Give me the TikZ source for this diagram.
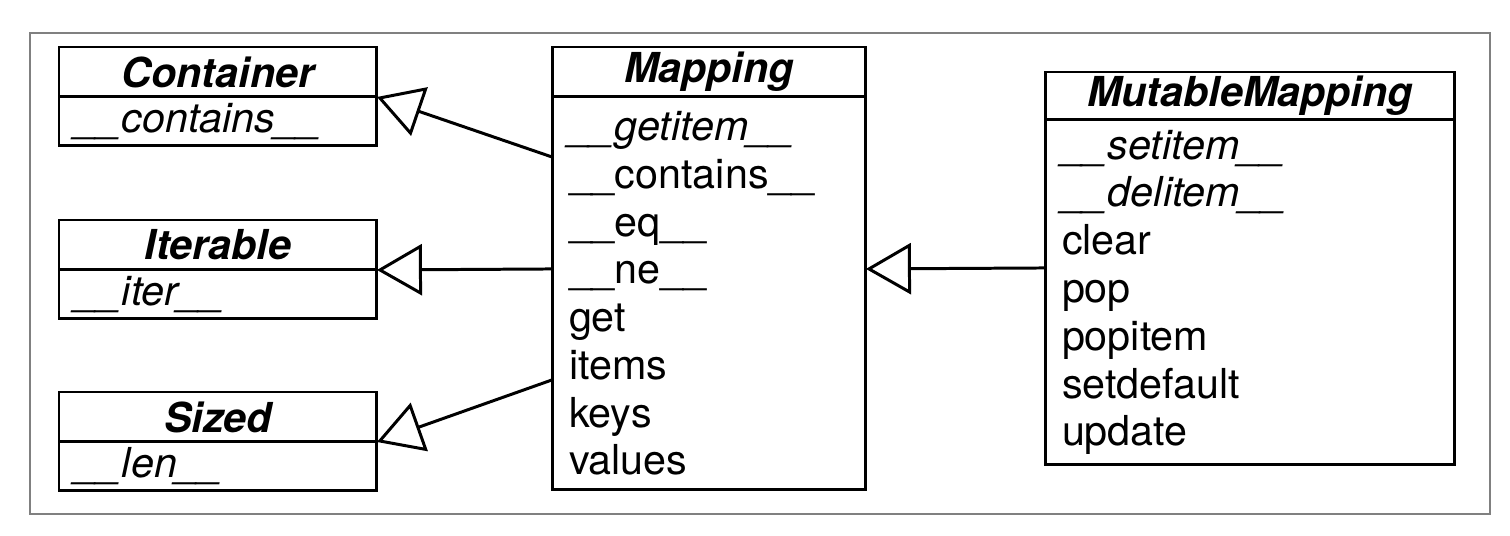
\documentclass[tikz,border=0pt]{standalone}
\usepackage{fontspec}
\setmainfont{TeX Gyre Heros}
\usepackage{tikz}
\usetikzlibrary{arrows.meta, positioning}
\definecolor{UMLFrame}{RGB}{128, 128, 128}
\definecolor{UMLLine}{RGB}{0, 0, 0}

\tikzset{
  clshead/.style={draw=UMLLine, line width=1.7pt, anchor=north west,
    minimum height=1cm, inner sep=0pt, outer sep=0pt,
    font=\fontsize{23.5}{27.2}\selectfont\bfseries\itshape},
  clsbody/.style={draw=UMLLine, line width=1.7pt, anchor=north,
    inner xsep=0.34cm, inner ysep=0pt, outer sep=0pt, align=left,
    font=\fontsize{23.5}{27.2}\selectfont},
  isa/.style={draw=UMLLine, line width=1.7pt,
    -{Triangle[open, length=0.9cm, width=1.02cm]}}
}

\begin{document}
\begin{tikzpicture}[x=0.02cm, y=-0.02cm]
  \useasboundingbox (0,0) rectangle (1510,536);
  \draw[UMLFrame, line width=0.8pt] (30,33) rectangle (1490,514);

  % abstract base classes
  \node[clshead, minimum width=6.36cm] (contH) at (59,47) {Container};
  \node[clsbody, minimum width=6.36cm, text width=5.68cm, minimum height=0.98cm,
    below=0pt of contH] (contB) {\textit{\_\_contains\_\_}};

  \node[clshead, minimum width=6.36cm] (iterH) at (59,220) {Iterable};
  \node[clsbody, minimum width=6.36cm, text width=5.68cm, minimum height=0.98cm,
    below=0pt of iterH] (iterB) {\textit{\_\_iter\_\_}};

  \node[clshead, minimum width=6.36cm] (sizeH) at (59,392) {Sized};
  \node[clsbody, minimum width=6.36cm, text width=5.68cm, minimum height=0.98cm,
    below=0pt of sizeH] (sizeB) {\textit{\_\_len\_\_}};

  % Mapping
  \node[clshead, minimum width=6.28cm] (mapH) at (552,47) {Mapping};
  \node[clsbody, minimum width=6.28cm, text width=5.6cm, minimum height=7.86cm,
    below=0pt of mapH] (mapB) {%
    \textit{\_\_getitem\_\_}\\
    \_\_contains\_\_\\
    \_\_eq\_\_\\
    \_\_ne\_\_\\
    get\\
    items\\
    keys\\
    values};

  % MutableMapping
  \node[clshead, minimum width=8.2cm, minimum height=0.96cm] (mmH) at (1045,72) {MutableMapping};
  \node[clsbody, minimum width=8.2cm, text width=7.52cm, minimum height=6.9cm,
    below=0pt of mmH] (mmB) {%
    \textit{\_\_setitem\_\_}\\
    \textit{\_\_delitem\_\_}\\
    clear\\
    pop\\
    popitem\\
    setdefault\\
    update};

  % inheritance
  \draw[isa] ([yshift=-1.2cm]mapB.north west) -- (contH.south east);
  \draw[isa] ([yshift=-3.44cm]mapB.north west) -- (iterH.south east);
  \draw[isa] ([yshift=-5.66cm]mapB.north west) -- (sizeH.south east);
  \draw[isa] ([yshift=-2.96cm]mmB.north west) -- ([yshift=-3.44cm]mapB.north east);
\end{tikzpicture}
\end{document}
